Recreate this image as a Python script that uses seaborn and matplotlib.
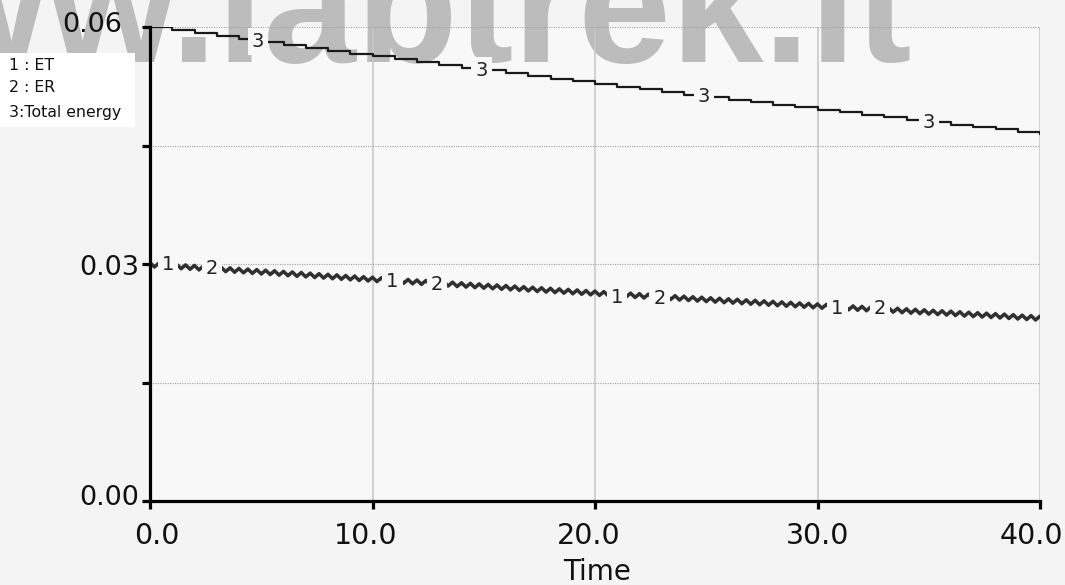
import numpy as np
import pandas as pd
import matplotlib
matplotlib.use("Agg")
import matplotlib.pyplot as plt
import matplotlib.transforms as mtransforms
import seaborn as sns
from matplotlib.patches import Rectangle

# ---------------- data (energies in units of 1e-5) ----------------
TOTAL_E5 = [6000, 5962, 5923, 5885, 5848, 5810, 5773, 5736, 5699, 5663,
            5627, 5591, 5555, 5520, 5485, 5450, 5415, 5380, 5346, 5312,
            5278, 5244, 5211, 5177, 5144, 5112, 5079, 5047, 5015, 4983,
            4951, 4919, 4888, 4857, 4826, 4795, 4765, 4734, 4704, 4674,
            4644]

ET_E5 = [3025, 2971, 3018, 2964, 3010, 2956, 3003, 2949, 2995, 2942,
         2988, 2934, 2980, 2927, 2973, 2919, 2965, 2912, 2958, 2904,
         2951, 2897, 2943, 2889, 2936, 2882, 2928, 2875, 2921, 2867,
         2913, 2860, 2906, 2852, 2899, 2845, 2891, 2837, 2884, 2830,
         2876, 2822, 2869, 2815, 2861, 2808, 2854, 2800, 2846, 2793,
         2839, 2786, 2832, 2779, 2825, 2772, 2818, 2765, 2811, 2758,
         2804, 2751, 2797, 2744, 2790, 2737, 2783, 2730, 2776, 2723,
         2769, 2716, 2762, 2709, 2755, 2702, 2748, 2695, 2741, 2688,
         2734, 2681, 2727, 2674, 2720, 2667, 2713, 2660, 2706, 2653,
         2699, 2646, 2692, 2639, 2685, 2632, 2678, 2625, 2671, 2618,
         2664, 2611, 2657, 2604, 2651, 2598, 2644, 2591, 2638, 2585,
         2631, 2578, 2625, 2572, 2618, 2565, 2612, 2559, 2605, 2552,
         2599, 2546, 2592, 2539, 2586, 2533, 2579, 2526, 2573, 2519,
         2566, 2513, 2560, 2506, 2553, 2500, 2547, 2493, 2540, 2487,
         2534, 2480, 2527, 2474, 2521, 2467, 2514, 2461, 2508, 2454,
         2501, 2448, 2495, 2442, 2489, 2436, 2483, 2429, 2476, 2423,
         2470, 2417, 2464, 2411, 2458, 2405, 2452, 2399, 2446, 2392,
         2439, 2386, 2433, 2380, 2427, 2374, 2421, 2368, 2415, 2362,
         2409, 2356, 2402, 2349, 2396, 2343, 2390, 2337, 2384, 2331,
         2378, 2325, 2372, 2319, 2365, 2312, 2359, 2306, 2353, 2300,
         2347]

ER_E5 = [3010, 2956, 3003, 2949, 2995, 2941, 2988, 2934, 2980, 2927,
         2973, 2919, 2965, 2912, 2958, 2904, 2950, 2897, 2943, 2889,
         2936, 2882, 2928, 2874, 2921, 2867, 2913, 2860, 2906, 2852,
         2898, 2845, 2891, 2837, 2884, 2830, 2876, 2822, 2869, 2815,
         2861, 2807, 2854, 2800, 2846, 2793, 2839, 2785, 2831, 2778,
         2824, 2771, 2817, 2764, 2810, 2757, 2803, 2750, 2796, 2743,
         2789, 2736, 2782, 2729, 2775, 2722, 2768, 2715, 2761, 2708,
         2754, 2701, 2747, 2694, 2740, 2687, 2733, 2680, 2726, 2673,
         2719, 2666, 2712, 2659, 2705, 2652, 2698, 2645, 2691, 2638,
         2684, 2631, 2677, 2624, 2670, 2617, 2663, 2610, 2656, 2603,
         2649, 2596, 2642, 2589, 2636, 2583, 2629, 2576, 2623, 2570,
         2616, 2563, 2610, 2557, 2603, 2550, 2597, 2544, 2590, 2537,
         2584, 2531, 2577, 2524, 2571, 2518, 2564, 2511, 2558, 2504,
         2551, 2498, 2545, 2491, 2538, 2485, 2532, 2478, 2525, 2472,
         2519, 2465, 2512, 2459, 2506, 2452, 2499, 2446, 2493, 2439,
         2486, 2433, 2480, 2427, 2474, 2421, 2468, 2414, 2461, 2408,
         2455, 2402, 2449, 2396, 2443, 2390, 2437, 2384, 2431, 2377,
         2424, 2371, 2418, 2365, 2412, 2359, 2406, 2353, 2400, 2347,
         2394, 2341, 2387, 2334, 2381, 2328, 2375, 2322, 2369, 2316,
         2363, 2310, 2357, 2304, 2350, 2297, 2344, 2291, 2338, 2285,
         2332]

X_TICKS = [0, 10, 20, 30, 40]
X_TICK_LABELS = ["0.0", "10.0", "20.0", "30.0", "40.0"]
Y_TICKS = [0.0, 0.03, 0.06]
Y_TICK_LABELS = ["0.00", "0.03", "0.06"]
Y_MINOR_TICKS = [0.015, 0.045]
LEGEND_LABELS = ["1 : ET", "2 : ER", "3:Total energy"]
SERIES_TAGS = ["1", "2", "3"]
TAG_TIMES_ET = [0.8, 10.9, 21.0, 30.9]
TAG_TIMES_ER = [2.8, 12.9, 22.9, 32.8]
TAG_TIMES_TOTAL = [4.85, 14.9, 24.9, 35.0]
X_LABEL = "Time"
WATERMARK = "www.labtrek.it"

# ---------------- styling ----------------
sns.set_theme(style="white")
plt.rcParams["font.family"] = ["DejaVu Sans"]

W, H = 1065, 585
FIG_BG = "#f4f4f4"
AX_BG = "#f8f8f8"

fig = plt.figure(figsize=(W / 100, H / 100), dpi=100, facecolor=FIG_BG)
ax = fig.add_axes([150 / W, 1 - 501 / H, 890 / W, 474 / H])
ax.set_facecolor(AX_BG)
ax.set_axisbelow("line")

total = np.array(TOTAL_E5) * 1e-5
t_total = np.linspace(0, 40, len(total))
et = np.array(ET_E5) * 1e-5
er = np.array(ER_E5) * 1e-5
t_osc = np.linspace(0, 40, len(et))

df_total = pd.DataFrame({"Time": t_total, "Energy": total})
df_et = pd.DataFrame({"Time": t_osc, "Energy": et})
df_er = pd.DataFrame({"Time": t_osc, "Energy": er})

sns.lineplot(data=df_er, x="Time", y="Energy", ax=ax, color="#303030",
             lw=1.9, estimator=None, zorder=2)
sns.lineplot(data=df_et, x="Time", y="Energy", ax=ax, color="#303030",
             lw=1.9, estimator=None, zorder=2)
sns.lineplot(data=df_total, x="Time", y="Energy", ax=ax, color="#1a1a1a",
             lw=1.6, estimator=None, drawstyle="steps-post", zorder=2)

ax.set_xlim(0, 40)
ax.set_ylim(0, 0.06)
ax.set_xlabel("")
ax.set_ylabel("")

# grid
ax.set_xticks(X_TICKS)
ax.set_xticklabels(X_TICK_LABELS)
ax.set_yticks(Y_TICKS)
ax.set_yticks(Y_MINOR_TICKS, minor=True)
ax.set_yticklabels([])
ax.grid(which="both", axis="y", color="#a0a0a0", lw=0.8, ls=(0, (1, 1.2)))
ax.grid(which="major", axis="x", color="#c6c6c6", lw=1.1, ls="-")

for side in ["top", "right"]:
    ax.spines[side].set_visible(False)
for side in ["left", "bottom"]:
    ax.spines[side].set_visible(True)
    ax.spines[side].set_color("black")
    ax.spines[side].set_linewidth(2.3)

ax.tick_params(axis="both", which="both", direction="out", length=6,
               width=2.3, color="black", left=True, bottom=True)
ax.tick_params(axis="x", labelsize=20.5, pad=9, labelcolor="#111111")

# nudge x tick labels horizontally as in the original
xlab_shift_px = [7, -7, -6, 0, -9]
for lab, dx in zip(ax.get_xticklabels(), xlab_shift_px):
    lab.set_transform(lab.get_transform() +
                      mtransforms.ScaledTranslation(dx / 100, 0, fig.dpi_scale_trans))

# y tick labels placed as in the original (irregular offsets)
ylab_pos = {"0.00": (-0.0124, 0.006), "0.03": (-0.0124, 0.492), "0.06": (-0.0315, 1.005)}
for v, s in zip(Y_TICKS, Y_TICK_LABELS):
    xo, yo = ylab_pos[s]
    ax.text(xo, yo, s, transform=ax.transAxes, ha="right", va="center",
            fontsize=19.5, color="#111111", clip_on=False)

# series tags on the curves
tag_box = dict(boxstyle="square,pad=0.2", fc=AX_BG, ec="none")
for t in TAG_TIMES_ET:
    ax.text(t, np.interp(t, t_osc, et) - 0.0002, SERIES_TAGS[0], fontsize=14,
            ha="center", va="center", color="#222222", bbox=tag_box, zorder=3)
for t in TAG_TIMES_ER:
    ax.text(t, np.interp(t, t_osc, er) - 0.0001, SERIES_TAGS[1], fontsize=14,
            ha="center", va="center", color="#222222", bbox=tag_box, zorder=3)
for t in TAG_TIMES_TOTAL:
    ax.text(t, np.interp(t, t_total, total), SERIES_TAGS[2], fontsize=14,
            ha="center", va="center", color="#222222", bbox=tag_box, zorder=3)

# watermark (behind the data, above the plot background)
ax.text(-212 / W, 1 - 62 / H, WATERMARK, transform=fig.transFigure,
        fontfamily="Liberation Sans", fontweight="bold", fontsize=120,
        color="#bcbcbc", ha="left", va="baseline", clip_on=False, zorder=1)

# legend box
fig.add_artist(Rectangle((0, 1 - 127 / H), 135 / W, 74 / H,
                         transform=fig.transFigure, facecolor="white",
                         edgecolor="none", zorder=2))
for lab, yc in zip(LEGEND_LABELS, [65, 87, 113]):
    fig.text(9 / W, 1 - yc / H, lab, fontsize=11.3, ha="left", va="center",
             color="#111111", zorder=3)

fig.text(597 / W, 1 - 572 / H, X_LABEL, fontsize=20, ha="center",
         va="center", color="#111111")

fig.savefig("out.png", dpi=100, facecolor=FIG_BG)
